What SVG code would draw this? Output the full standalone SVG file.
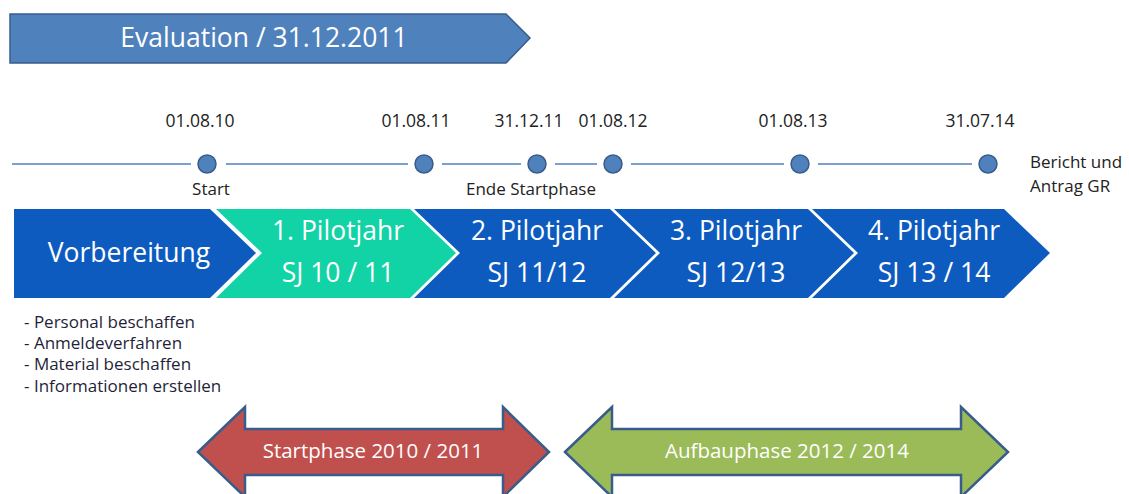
<svg xmlns="http://www.w3.org/2000/svg" width="1129" height="494" viewBox="0 0 1129 494">
<style>
text{font-family:"Open Sans","Liberation Sans",Arial,sans-serif}
.date{font-size:17.5px;fill:#222;text-anchor:middle}
.lbl{font-size:17px;fill:#222}
.chev{fill:#0e5bc0}
.chevg{fill:#12d3a5}
.ct{font-size:26.5px;fill:#fff;text-anchor:middle}
.bul{font-size:17px;fill:#1f1f3a}
.dot{fill:#4f81bd;stroke:#385d8a;stroke-width:1.5}
.tl{stroke:#4f81bd;stroke-width:1.3}
.dbl{stroke:#385d8a;stroke-width:2.5;stroke-linejoin:miter}
.bt{font-size:20.5px;fill:#fff;text-anchor:middle}
</style>
<g id="evaluation">
<polygon points="10,14 506,14 530,38 506,63 10,63" fill="#4f81bd" stroke="#385d8a" stroke-width="1.5"/>
<text x="264" y="47" font-size="26.5" fill="#fff" text-anchor="middle">Evaluation / 31.12.2011</text>
</g>
<g id="connectors">
<line class="tl" x1="12" y1="164" x2="191" y2="164"/>
<line class="tl" x1="226" y1="164" x2="408" y2="164"/>
<line class="tl" x1="442" y1="164" x2="521" y2="164"/>
<line class="tl" x1="555" y1="164" x2="597" y2="164"/>
<line class="tl" x1="631" y1="164" x2="784" y2="164"/>
<line class="tl" x1="818" y1="164" x2="972" y2="164"/>
</g>
<g id="m-0108010">
<text class="date" x="200" y="127">01.08.10</text>
<circle class="dot" cx="207" cy="164" r="9"/>
<text class="lbl" x="211" y="195" text-anchor="middle">Start</text>
</g>
<g id="m-010811">
<text class="date" x="416" y="127">01.08.11</text>
<circle class="dot" cx="424" cy="164" r="9"/>
</g>
<g id="m-311211">
<text class="date" x="529" y="127">31.12.11</text>
<circle class="dot" cx="537" cy="164" r="9"/>
<text class="lbl" x="531" y="195" text-anchor="middle">Ende Startphase</text>
</g>
<g id="m-010812">
<text class="date" x="613" y="127">01.08.12</text>
<circle class="dot" cx="613" cy="164" r="9"/>
</g>
<g id="m-010813">
<text class="date" x="793" y="127">01.08.13</text>
<circle class="dot" cx="800" cy="164" r="9"/>
</g>
<g id="m-310714">
<text class="date" x="980" y="127">31.07.14</text>
<circle class="dot" cx="988" cy="164" r="9"/>
<text class="lbl" x="1030" y="168">Bericht und</text>
<text class="lbl" x="1030" y="192">Antrag GR</text>
</g>
<g id="vorbereitung">
<polygon class="chev" points="14,209 210,209 256,253 210,298 14,298"/>
<text class="ct" x="129" y="262" font-size="27">Vorbereitung</text>
</g>
<g id="pilot1">
<polygon class="chevg" points="216,209 410,209 456,253 410,298 216,298 262,253"/>
<text class="ct" x="338" y="240">1. Pilotjahr</text>
<text class="ct" x="338" y="282">SJ 10 / 11</text>
</g>
<g id="pilot2">
<polygon class="chev" points="414,209 610,209 656,253 610,298 414,298 460,253"/>
<text class="ct" x="537" y="240">2. Pilotjahr</text>
<text class="ct" x="537" y="282">SJ 11/12</text>
</g>
<g id="pilot3">
<polygon class="chev" points="614,209 808,209 854,253 808,298 614,298 660,253"/>
<text class="ct" x="736" y="240">3. Pilotjahr</text>
<text class="ct" x="736" y="282">SJ 12/13</text>
</g>
<g id="pilot4">
<polygon class="chev" points="812,209 1004,209 1050,253 1004,298 812,298 858,253"/>
<text class="ct" x="934" y="240">4. Pilotjahr</text>
<text class="ct" x="934" y="282">SJ 13 / 14</text>
</g>
<g id="tasks">
<text class="bul" x="24" y="328">- Personal beschaffen</text>
<text class="bul" x="24" y="349">- Anmeldeverfahren</text>
<text class="bul" x="24" y="370">- Material beschaffen</text>
<text class="bul" x="24" y="392">- Informationen erstellen</text>
</g>
<g id="startphase">
<polygon class="dbl" fill="#c0504d" points="198,452 245,407 245,429 503,429 503,407 549,452 503,497 503,475 245,475 245,497"/>
<text class="bt" x="373" y="458">Startphase 2010 / 2011</text>
</g>
<g id="aufbauphase">
<polygon class="dbl" fill="#9bbb59" points="565,452 612,407 612,429 961,429 961,407 1008,452 961,497 961,475 612,475 612,497"/>
<text class="bt" x="787" y="458">Aufbauphase 2012 / 2014</text>
</g>
</svg>
